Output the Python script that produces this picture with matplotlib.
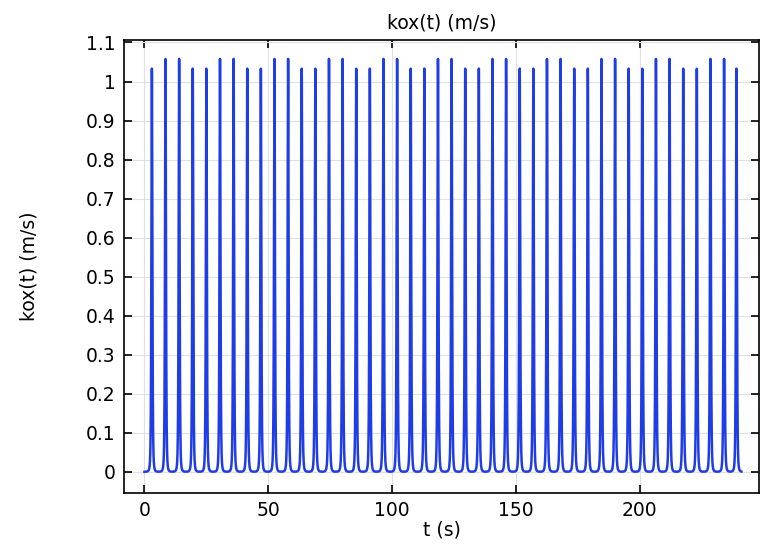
import matplotlib.pyplot as plt
import numpy as np

# peak times (s) and peak heights (m/s)
peak_times = [3.0, 8.5, 14.0, 19.5, 25.0, 30.5, 36.0, 41.5, 47.0, 52.5, 58.0,
              63.5, 69.0, 74.5, 80.0, 85.5, 91.0, 96.5, 102.0, 107.5, 113.0, 118.5,
              124.0, 129.5, 135.0, 140.5, 146.0, 151.5, 157.0, 162.5, 168.0, 173.5,
              179.0, 184.5, 190.0, 195.5, 201.0, 206.5, 212.0, 217.5, 223.0, 228.5,
              234.0, 239.0]
peak_heights = [1.033, 1.058, 1.058, 1.033, 1.033, 1.058, 1.058, 1.033, 1.033, 1.058, 1.058,
                1.033, 1.033, 1.058, 1.058, 1.033, 1.033, 1.058, 1.058, 1.033, 1.033, 1.058,
                1.058, 1.033, 1.033, 1.058, 1.058, 1.033, 1.033, 1.058, 1.058, 1.033,
                1.033, 1.058, 1.058, 1.033, 1.033, 1.058, 1.058, 1.033, 1.033, 1.058,
                1.058, 1.033]
t_start, t_end = 0.0, 241.0
peak_width = 0.34  # width of each spike (s)

# build the trace from the peaks
t = np.linspace(t_start, t_end, 24001)
kox = np.zeros_like(t)
for tp, h in zip(peak_times, peak_heights):
    kox += h / (1 + ((t - tp) / peak_width) ** 2) ** 2

plt.rcParams['font.family'] = 'DejaVu Sans'
fig = plt.figure(figsize=(7.6, 5.52), dpi=100)
ax = fig.add_axes([0.163, 0.107, 0.836, 0.821])

ax.plot(t, kox, color='#1f3de6', lw=1.8)

ax.set_xlim(-8.3, 248.2)
ax.set_ylim(-0.054, 1.107)
ax.set_xticks([0, 50, 100, 150, 200])
ax.set_yticks(np.round(np.arange(0, 1.11, 0.1), 1))
ax.set_yticklabels(['0', '0.1', '0.2', '0.3', '0.4', '0.5', '0.6', '0.7', '0.8', '0.9', '1', '1.1'])
ax.grid(True, color='#e0e0e0', lw=0.8)
ax.set_axisbelow(True)
ax.tick_params(direction='in', length=6, width=1.2, top=True, right=True,
               labelsize=13.5, pad=6)
for s in ax.spines.values():
    s.set_linewidth(1.2)

ax.set_title('kox(t) (m/s)', fontsize=13.5, pad=8)
ax.set_xlabel('t (s)', fontsize=13.5, labelpad=0)
ax.set_ylabel('kox(t) (m/s)', fontsize=13.5, labelpad=34)

fig.savefig('out.png', dpi=100)
